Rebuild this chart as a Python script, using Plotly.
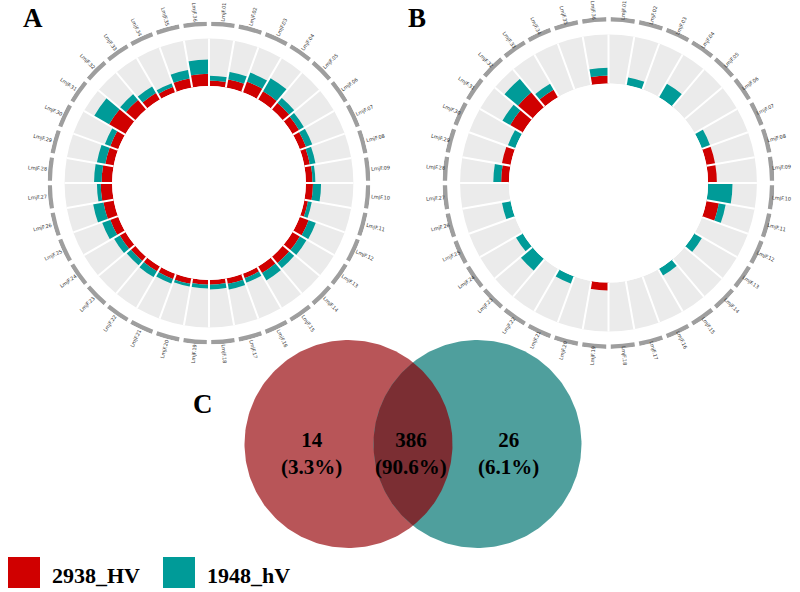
import numpy as np
import plotly.graph_objects as go

# ---------------- data ----------------
chromosomes = [f"LmjF.{i:02d}" for i in range(1, 37)]

# panel A (stacked per chromosome)
a_2938 = [6, 9, 12, 10, 9, 8, 7, 6, 7, 7.5, 4, 10, 9, 9, 8, 5, 6, 5,
          5, 6, 6, 6, 6, 7, 9, 11, 12, 11, 9, 9, 20, 13, 8, 6, 10, 13]
a_1948 = [5, 8, 10, 16, 7, 6, 7, 6, 3, 8.5, 4, 8, 8, 7, 9, 5, 6, 5,
          4, 3, 5, 7, 6, 7, 9, 11, 4, 8, 9, 6, 18, 8, 8, 4, 9, 15]

# panel B
b_2938 = [0, 0, 0, 0, 0, 0, 0, 9, 9, 0, 13, 0, 0, 0, 0, 0, 0, 0,
          8, 0, 0, 0, 0, 0, 0, 0, 0, 8, 9, 0, 15, 20, 9, 0, 0, 8]
b_1948 = [0, 8, 0, 16, 0, 0, 9, 0, 0, 25, 7, 0, 9, 0, 8, 0, 0, 0,
          0, 0, 8, 0, 16, 8, 0, 9, 0, 8, 0, 8, 9, 18, 7, 0, 0, 8]

venn_only_2938 = 14
venn_shared = 386
venn_only_1948 = 26
series_names = ["2938_HV", "1948_hV"]
panel_letters = ["A", "B", "C"]

# ---------------- style ----------------
W, H = 800, 592
RED = "#d00000"
TEAL = "#009b98"
TRACK_C = "#ebebeb"
RING_C = "#9e9e9e"
TRACK = 50
RMAX = 68
RING0 = 63.3
SERIF = "Liberation Serif, Times New Roman, serif"

n = len(chromosomes)
step = 360 / n
theta = [(i + 0.5) * step for i in range(n)]

fig = go.Figure()

panels = [
    dict(sub="polar", cx=209, cy=183, R=161.5, red=a_2938, teal=a_1948, rl=172),
    dict(sub="polar2", cx=608.5, cy=183, R=166, red=b_2938, teal=b_1948, rl=173.5),
]

annotations = []
for p in panels:
    sub = p["sub"]
    fig.add_trace(go.Barpolar(theta=theta, r=[TRACK] * n, base=0, width=step,
                              marker=dict(color=TRACK_C, line_width=0),
                              subplot=sub, showlegend=False, hoverinfo="skip"))
    fig.add_trace(go.Barpolar(theta=theta, r=p["red"], base=0, width=step,
                              marker=dict(color=RED, line_width=0),
                              subplot=sub, name=series_names[0], showlegend=False))
    fig.add_trace(go.Barpolar(theta=theta, r=p["teal"], base=p["red"], width=step,
                              marker=dict(color=TEAL, line_width=0),
                              subplot=sub, name=series_names[1], showlegend=False))
    th, rr = [], []
    for k in range(n):
        th += [k * step, k * step, None]
        rr += [0, TRACK, None]
    fig.add_trace(go.Scatterpolar(theta=th, r=rr, mode="lines",
                                  line=dict(color="white", width=2),
                                  subplot=sub, showlegend=False, hoverinfo="skip"))
    fig.add_trace(go.Barpolar(theta=theta, r=[RMAX - RING0] * n, base=RING0,
                              width=step * 0.84,
                              marker=dict(color=RING_C, line_width=0),
                              subplot=sub, showlegend=False, hoverinfo="skip"))
    # chromosome labels
    rl = p["rl"]
    for name, t in zip(chromosomes, theta):
        rad = np.deg2rad(t)
        x = p["cx"] + rl * np.sin(rad)
        y = p["cy"] - rl * np.cos(rad)
        ang = t - 90 if t < 180 else t - 270
        annotations.append(dict(x=x / W, y=1 - y / H, xref="paper", yref="paper",
                                text=name, showarrow=False, textangle=ang,
                                xanchor="center", yanchor="middle",
                                font=dict(size=5, color="#333333",
                                          family="DejaVu Sans")))

def polar_layout(p):
    R = p["R"]
    return dict(
        domain=dict(x=[(p["cx"] - R) / W, (p["cx"] + R) / W],
                    y=[1 - (p["cy"] + R) / H, 1 - (p["cy"] - R) / H]),
        hole=0.6, bgcolor="rgba(0,0,0,0)", barmode="overlay",
        radialaxis=dict(range=[0, RMAX], visible=False),
        angularaxis=dict(rotation=90, direction="clockwise", visible=False),
    )

# ---------------- Venn ----------------
vc_left = (348.5, 444.0)
vc_right = (477.5, 444.0)
vr = 104.0
tt = np.linspace(0, 2 * np.pi, 241)

def circle(c):
    return c[0] + vr * np.cos(tt), c[1] + vr * np.sin(tt)

xl, yl = circle(vc_left)
xr, yr = circle(vc_right)
fig.add_trace(go.Scatter(x=xl, y=yl, fill="toself", mode="lines",
                         line=dict(width=0), fillcolor="#b85558",
                         showlegend=False, hoverinfo="skip"))
fig.add_trace(go.Scatter(x=xr, y=yr, fill="toself", mode="lines",
                         line=dict(width=0), fillcolor="#4f9f9d",
                         showlegend=False, hoverinfo="skip"))
# lens (intersection)
d = vc_right[0] - vc_left[0]
a = np.arccos((d / 2) / vr)
t1 = np.linspace(-a, a, 80)
t2 = np.linspace(np.pi - a, np.pi + a, 80)
lx = np.concatenate([vc_left[0] + vr * np.cos(t1), vc_right[0] + vr * np.cos(t2)])
ly = np.concatenate([vc_left[1] + vr * np.sin(t1), vc_right[1] + vr * np.sin(t2)])
fig.add_trace(go.Scatter(x=lx, y=ly, fill="toself", mode="lines",
                         line=dict(width=0), fillcolor="#7b2e33",
                         showlegend=False, hoverinfo="skip"))

total = venn_only_2938 + venn_shared + venn_only_1948
venn_vals = [(venn_only_2938, 311), (venn_shared, 411), (venn_only_1948, 508)]
for v, x in venn_vals:
    annotations.append(dict(x=x, y=453, xref="x", yref="y",
                            text=f"<b>{v}<br>({100 * v / total:.1f}%)</b>",
                            showarrow=False, xanchor="center", yanchor="middle",
                            font=dict(size=21, color="black", family=SERIF)))

# panel letters
for letter, (x, y) in zip(panel_letters, [(33, 18), (417, 18), (203, 404)]):
    annotations.append(dict(x=x, y=y, xref="x", yref="y", text=f"<b>{letter}</b>",
                            showarrow=False, xanchor="center", yanchor="middle",
                            font=dict(size=27, color="black", family=SERIF)))

# legend
shapes = []
for (x0, col, name) in [(8, RED, series_names[0]), (163, TEAL, series_names[1])]:
    shapes.append(dict(type="rect", xref="x", yref="y", x0=x0, x1=x0 + 32,
                       y0=557, y1=588, fillcolor=col, line=dict(width=0)))
    annotations.append(dict(x=x0 + 42, y=575, xref="x", yref="y",
                            text=f"<b>{name}</b>", showarrow=False,
                            xanchor="left", yanchor="middle",
                            font=dict(size=22, color="black", family=SERIF)))

fig.update_layout(
    width=W, height=H, margin=dict(l=0, r=0, t=0, b=0),
    paper_bgcolor="white", plot_bgcolor="rgba(0,0,0,0)",
    polar=polar_layout(panels[0]), polar2=polar_layout(panels[1]),
    xaxis=dict(range=[0, W], visible=False, domain=[0, 1], fixedrange=True),
    yaxis=dict(range=[H, 0], visible=False, domain=[0, 1], fixedrange=True),
    annotations=annotations, shapes=shapes, showlegend=False,
)

fig.write_html("out.html", config={"displayModeBar": False},
               post_script="document.body.style.margin='0';document.body.style.overflow='hidden';")
